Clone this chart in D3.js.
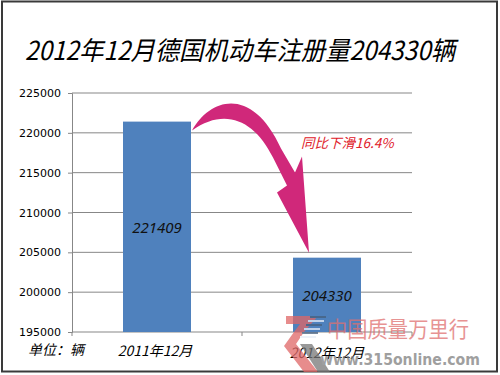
<!DOCTYPE html>
<html>
<head>
<meta charset="utf-8">
<script src="https://cdn.jsdelivr.net/npm/d3@7"></script>
<style>
  html, body { margin: 0; padding: 0; background: #fff; }
  svg { display: block; }
</style>
</head>
<body>
<div id="chart"></div>
<script>
// chart data
const categories = ['2011年12月', '2012年12月'];
const values = [221409, 204330];
const yTicks = [195000, 200000, 205000, 210000, 215000, 220000, 225000];
const titleText = '2012年12月德国机动车注册量204330辆';
const changeNote = '同比下滑16.4%';
const unitNote = '单位：辆';

const width = 500, height = 375;
const cjk = '"Noto Sans CJK SC", "Noto Sans", sans-serif';

const svg = d3.select('#chart').append('svg')
  .attr('width', width)
  .attr('height', height);

svg.append('rect')
  .attr('width', width).attr('height', height)
  .attr('fill', '#fff');

// outer frame
svg.append('rect')
  .attr('x', 2).attr('y', 1.5)
  .attr('width', width - 5).attr('height', height - 5)
  .attr('fill', 'none')
  .attr('stroke', '#3a3a3a')
  .attr('stroke-width', 2);

svg.append('text')
  .attr('x', 25).attr('y', 60)
  .attr('font-family', cjk)
  .attr('font-style', 'italic')
  .attr('font-size', 26)
  .attr('textLength', 430)
  .attr('lengthAdjust', 'spacingAndGlyphs')
  .attr('fill', '#000')
  .text(titleText);

const plot = { left: 72, right: 412, top: 93, bottom: 332 };

const y = d3.scaleLinear()
  .domain([195000, 225000])
  .range([plot.bottom, plot.top]);

const x = d3.scaleBand()
  .domain(categories)
  .range([plot.left, plot.right])
  .paddingInner(0.6)
  .paddingOuter(0.3);

// gridlines
svg.append('g')
  .selectAll('line')
  .data(yTicks.slice(1))
  .join('line')
  .attr('x1', plot.left).attr('x2', plot.right)
  .attr('y1', d => y(d)).attr('y2', d => y(d))
  .attr('stroke', '#878787')
  .attr('stroke-width', 1);

// y axis
const yAxis = svg.append('g')
  .attr('transform', `translate(${plot.left},0)`)
  .call(d3.axisLeft(y).tickValues(yTicks).tickSize(4).tickPadding(7).tickFormat(d3.format('d')));
yAxis.select('.domain').attr('stroke', '#878787');
yAxis.selectAll('.tick line').attr('stroke', '#878787');
yAxis.selectAll('text')
  .attr('font-family', '"DejaVu Sans", sans-serif')
  .attr('font-size', 11)
  .attr('fill', '#000');

// x axis baseline + dividers
svg.append('line')
  .attr('x1', plot.left).attr('x2', plot.right)
  .attr('y1', plot.bottom).attr('y2', plot.bottom)
  .attr('stroke', '#878787');
svg.append('g')
  .selectAll('line')
  .data([0, 1, 2])
  .join('line')
  .attr('x1', i => plot.left + i * (plot.right - plot.left) / 2)
  .attr('x2', i => plot.left + i * (plot.right - plot.left) / 2)
  .attr('y1', plot.bottom).attr('y2', plot.bottom + 4)
  .attr('stroke', '#878787');

// bars
svg.append('g')
  .selectAll('rect')
  .data(values)
  .join('rect')
  .attr('x', (d, i) => x(categories[i]))
  .attr('width', x.bandwidth())
  .attr('y', d => y(d))
  .attr('height', d => plot.bottom - y(d))
  .attr('fill', '#4f81bd');

// value labels inside bars
svg.append('g')
  .selectAll('text')
  .data(values)
  .join('text')
  .attr('x', (d, i) => x(categories[i]) + x.bandwidth() / 2)
  .attr('y', d => (y(d) + plot.bottom) / 2 + 6)
  .attr('text-anchor', 'middle')
  .attr('font-family', '"Noto Sans", sans-serif')
  .attr('font-style', 'italic')
  .attr('font-size', 15)
  .attr('fill', '#111')
  .text(d => d);

// category labels
svg.append('g')
  .selectAll('text')
  .data(categories)
  .join('text')
  .attr('x', (d, i) => x(d) + x.bandwidth() / 2 - 2 + i * 2)
  .attr('y', (d, i) => 356 + i * 2)
  .attr('text-anchor', 'middle')
  .attr('font-family', cjk)
  .attr('font-style', 'italic')
  .attr('font-size', 14)
  .attr('fill', '#000')
  .text(d => d);

svg.append('text')
  .attr('x', 28).attr('y', 355)
  .attr('font-family', cjk)
  .attr('font-style', 'italic')
  .attr('font-size', 14)
  .attr('fill', '#000')
  .text(unitNote);

// curved arrow from bar 1 to bar 2
const x0 = x(categories[0]) + x.bandwidth(), y0 = y(values[0]) + 9;
const tipX = x(categories[1]) + 16, tipY = y(values[1]) - 5;
const arrow = d3.path();
arrow.moveTo(x0 + 1, y0);
arrow.bezierCurveTo(x0 + 20, y0 - 34, x0 + 62, y0 - 44, x0 + 90, y0 + 18);
arrow.lineTo(x0 + 104, y0 + 42);
arrow.lineTo(x0 + 111, y0 + 26);
arrow.lineTo(tipX, tipY);
arrow.lineTo(x0 + 86, y0 + 62);
arrow.lineTo(x0 + 96, y0 + 55);
arrow.lineTo(x0 + 82, y0 + 27);
arrow.bezierCurveTo(x0 + 64, y0 - 10, x0 + 34, y0 - 24, x0 + 1, y0);
arrow.closePath();
svg.append('path')
  .attr('d', arrow.toString())
  .attr('fill', '#d0287a');

svg.append('text')
  .attr('x', 301).attr('y', 148)
  .attr('font-family', cjk)
  .attr('font-style', 'italic')
  .attr('font-size', 13.5)
  .attr('fill', '#e0202a')
  .text(changeNote);

// watermark
const wm = svg.append('g').attr('opacity', 0.75);
wm.append('path')
  .attr('d', 'M286,316 L318,316 L304,332 L296,344 L318,372 L304,372 L284,346 L294,332 L300,324 L286,324 Z')
  .attr('fill', '#e06666');
wm.append('g')
  .selectAll('line')
  .data([0, 1, 2, 3, 4, 5])
  .join('line')
  .attr('x1', i => 310 - i * 2).attr('x2', i => 326 - i * 2)
  .attr('y1', i => 317 + i * 4).attr('y2', i => 317 + i * 4)
  .attr('stroke', (d, i) => i % 2 ? '#e8eef8' : '#46607e')
  .attr('stroke-width', 2);
wm.append('path')
  .attr('d', 'M300,344 L312,344 L330,372 L318,372 Z')
  .attr('fill', '#777');
wm.append('text')
  .attr('x', 327).attr('y', 337)
  .attr('font-family', cjk)
  .attr('font-size', 22)
  .attr('textLength', 142)
  .attr('lengthAdjust', 'spacingAndGlyphs')
  .attr('fill', '#e07070')
  .text('中国质量万里行');
wm.append('text')
  .attr('x', 320).attr('y', 365)
  .attr('font-family', '"DejaVu Sans", sans-serif')
  .attr('font-weight', 'bold')
  .attr('font-size', 15)
  .attr('textLength', 160)
  .attr('lengthAdjust', 'spacingAndGlyphs')
  .attr('fill', '#808080')
  .text('www.315online.com');
</script>
</body>
</html>
